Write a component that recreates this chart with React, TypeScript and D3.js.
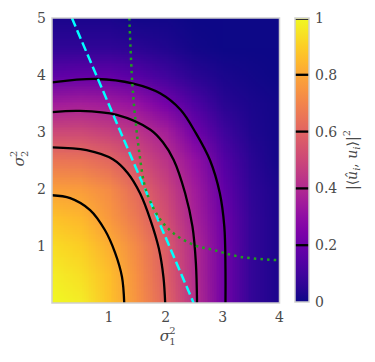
import React, { useMemo } from "react";
import * as d3 from "d3";

// grid of the heat map, rows go from sigma2^2 = 0 upward
const xGrid = [0, 0.5, 1, 1.5, 2, 2.5, 3, 3.5, 4];
const yGrid = [0, 0.5, 1, 1.5, 2, 2.5, 3, 3.5, 4, 4.5, 5];
const overlapRows = [
  [1.0, 0.97, 0.87, 0.74, 0.6, 0.42, 0.22, 0.07, 0.02],
  [0.97, 0.94, 0.86, 0.73, 0.58, 0.41, 0.22, 0.07, 0.02],
  [0.93, 0.9, 0.82, 0.71, 0.57, 0.4, 0.22, 0.07, 0.02],
  [0.87, 0.84, 0.76, 0.66, 0.53, 0.37, 0.21, 0.07, 0.02],
  [0.78, 0.77, 0.72, 0.61, 0.49, 0.35, 0.18, 0.06, 0.02],
  [0.66, 0.65, 0.61, 0.53, 0.43, 0.31, 0.15, 0.05, 0.01],
  [0.51, 0.51, 0.48, 0.44, 0.36, 0.22, 0.1, 0.03, 0.01],
  [0.35, 0.36, 0.35, 0.31, 0.23, 0.13, 0.05, 0.02, 0.01],
  [0.17, 0.18, 0.18, 0.15, 0.1, 0.05, 0.02, 0.01, 0.0],
  [0.06, 0.06, 0.06, 0.05, 0.03, 0.01, 0.0, 0.0, 0.0],
  [0.02, 0.02, 0.02, 0.01, 0.01, 0.0, 0.0, 0.0, 0.0],
];

// contour lines (levels 0.2 .. 0.8)
const contourLevels = [0.2, 0.4, 0.6, 0.8];
const contour02 = [[0, 3.87], [0.79, 3.93], [1.43, 3.85], [1.9, 3.68], [2.26, 3.39], [2.53, 2.98], [2.78, 2.5], [2.95, 1.93], [3.03, 1.34], [3.05, 0.6], [3.05, 0]];
const contour04 = [[0, 3.35], [0.49, 3.37], [1.14, 3.3], [1.73, 3.04], [1.95, 2.82], [2.14, 2.51], [2.34, 1.93], [2.47, 1.34], [2.53, 0.7], [2.55, 0]];
const contour06 = [[0, 2.73], [0.61, 2.68], [1.07, 2.52], [1.33, 2.28], [1.55, 1.92], [1.73, 1.46], [1.88, 0.95], [1.96, 0.45], [1.99, 0]];
const contour08 = [[0, 1.89], [0.32, 1.84], [0.67, 1.63], [0.93, 1.28], [1.11, 0.88], [1.23, 0.46], [1.27, 0]];
const contours = [contour02, contour04, contour06, contour08];

// cyan dashed and green dotted curves
const cyanLine = [[0.35, 5], [2.49, 0]];
const greenCurve = [[1.36, 5], [1.41, 3.88], [1.47, 3.18], [1.54, 2.6], [1.62, 2.1], [1.72, 1.8], [1.9, 1.47], [2.14, 1.22], [2.49, 1.02], [2.84, 0.93], [3.31, 0.81], [4.0, 0.75]];

const xTicks = [1, 2, 3, 4];
const yTicks = [1, 2, 3, 4, 5];
const cbTicks = [0, 0.2, 0.4, 0.6, 0.8, 1];
const cbLabels = ["0", "0.2", "0.4", "0.6", "0.8", "1"];

const W = 375, H = 362;
const margin = { left: 52, right: 279.5, top: 18, bottom: 303 };
const serif = "DejaVu Serif";

export default function App() {
  const x = d3.scaleLinear().domain([0, 4]).range([margin.left, margin.right]);
  const y = d3.scaleLinear().domain([0, 5]).range([margin.bottom, margin.top]);
  const cb = d3.scaleLinear().domain([0, 1]).range([302, 18]);
  const cbX = 295, cbW = 14;

  // small image, one pixel per grid node, the browser smooths it when scaled up
  const heatUrl = useMemo(() => {
    const cv = document.createElement("canvas");
    cv.width = xGrid.length;
    cv.height = yGrid.length;
    const ctx = cv.getContext("2d");
    if (!ctx) return "";
    const img = ctx.createImageData(cv.width, cv.height);
    overlapRows.forEach((row, j) => {
      const r = cv.height - 1 - j;
      row.forEach((v, i) => {
        const c = d3.rgb(d3.interpolatePlasma(v));
        const k = (r * cv.width + i) * 4;
        img.data[k] = c.r;
        img.data[k + 1] = c.g;
        img.data[k + 2] = c.b;
        img.data[k + 3] = 255;
      });
    });
    ctx.putImageData(img, 0, 0);
    return cv.toDataURL();
  }, []);

  const dx = (xGrid[1] - xGrid[0]) / 2;
  const dy = (yGrid[1] - yGrid[0]) / 2;

  const line = d3.line<number[]>().x(d => x(d[0])).y(d => y(d[1])).curve(d3.curveCatmullRom.alpha(0.5));
  const straight = d3.line<number[]>().x(d => x(d[0])).y(d => y(d[1]));

  const stops = d3.range(0, 1.0001, 0.05);
  const textCol = "#4a4a4a";
  const ts = { fontFamily: serif };

  return (
    <svg width={W} height={H} style={{ position: "absolute", left: 0, top: 0, background: "#fff" }}>
      <defs>
        <clipPath id="plotClip">
          <rect x={margin.left} y={margin.top} width={margin.right - margin.left} height={margin.bottom - margin.top} />
        </clipPath>
        <linearGradient id="cbGrad" x1="0" y1="1" x2="0" y2="0">
          {stops.map(s => (
            <stop key={s} offset={s} stopColor={d3.interpolatePlasma(s)} />
          ))}
        </linearGradient>
      </defs>

      <g clipPath="url(#plotClip)">
        <image
          href={heatUrl}
          x={x(xGrid[0] - dx)}
          y={y(yGrid[yGrid.length - 1] + dy)}
          width={x(xGrid[xGrid.length - 1] + dx) - x(xGrid[0] - dx)}
          height={y(yGrid[0] - dy) - y(yGrid[yGrid.length - 1] + dy)}
          preserveAspectRatio="none"
        />
        {contours.map((c, i) => (
          <path key={i} d={line(c) || ""} fill="none" stroke="#000" strokeWidth={2.3} />
        ))}
        <path d={straight(cyanLine) || ""} fill="none" stroke="#00ffff" strokeWidth={2.5} strokeDasharray="9.25,4" />
        <path d={line(greenCurve) || ""} fill="none" stroke="#1f9f1f" strokeWidth={2.5} strokeDasharray="2.5,4.1" />
      </g>
      <rect x={margin.left} y={margin.top} width={margin.right - margin.left} height={margin.bottom - margin.top}
        fill="none" stroke="#cfcfcf" strokeWidth={1.5} />

      {xTicks.map(t => (
        <text key={t} style={ts} x={x(t)} y={317} textAnchor="middle" dominantBaseline="central" fontSize={14} fill={textCol}>{t}</text>
      ))}
      {yTicks.map(t => (
        <text key={t} style={ts} x={46} y={y(t)} textAnchor="end" dominantBaseline="central" fontSize={14} fill={textCol}>{t}</text>
      ))}

      {/* x label sigma_1^2 */}
      <g transform={`translate(${(margin.left + margin.right) / 2 - 6}, 341)`} fill={textCol}>
        <text style={ts} x={0} y={0} fontSize={15} fontStyle="italic">σ</text>
        <text style={ts} x={9.5} y={-7} fontSize={10}>2</text>
        <text style={ts} x={9.5} y={4} fontSize={10}>1</text>
      </g>
      {/* y label sigma_2^2 */}
      <g transform={`translate(24, ${(margin.top + margin.bottom) / 2 + 6}) rotate(-90)`} fill={textCol}>
        <text style={ts} x={0} y={0} fontSize={15} fontStyle="italic">σ</text>
        <text style={ts} x={9.5} y={-7} fontSize={10}>2</text>
        <text style={ts} x={9.5} y={4} fontSize={10}>2</text>
      </g>

      {/* colour bar */}
      <rect x={cbX} y={cb(1)} width={cbW} height={cb(0) - cb(1)} fill="url(#cbGrad)" />
      {contourLevels.map(l => (
        <line key={l} x1={cbX} x2={cbX + cbW} y1={cb(l)} y2={cb(l)} stroke="#000" strokeWidth={2.3} />
      ))}
      <line x1={cbX} x2={cbX + cbW} y1={cb(1) + 1.5} y2={cb(1) + 1.5} stroke="#333" strokeWidth={1} />
      <rect x={cbX} y={cb(1)} width={cbW} height={cb(0) - cb(1)} fill="none" stroke="#cfcfcf" strokeWidth={1.5} />
      {cbTicks.map((t, i) => (
        <text key={t} style={ts} x={315} y={cb(t)} dominantBaseline="central" fontSize={14} fill={textCol}>{cbLabels[i]}</text>
      ))}
      <text style={ts} transform={`translate(357, 160) rotate(-90)`} textAnchor="middle" fontSize={14} fill={textCol}>
        |⟨<tspan fontStyle="italic">û</tspan><tspan fontSize={10} fontStyle="italic" dy={3}>i</tspan>
        <tspan dy={-3}>, </tspan><tspan fontStyle="italic">u</tspan><tspan fontSize={10} fontStyle="italic" dy={3}>i</tspan>
        <tspan dy={-3}>⟩|</tspan><tspan fontSize={10} dy={-7}>2</tspan>
      </text>
    </svg>
  );
}
